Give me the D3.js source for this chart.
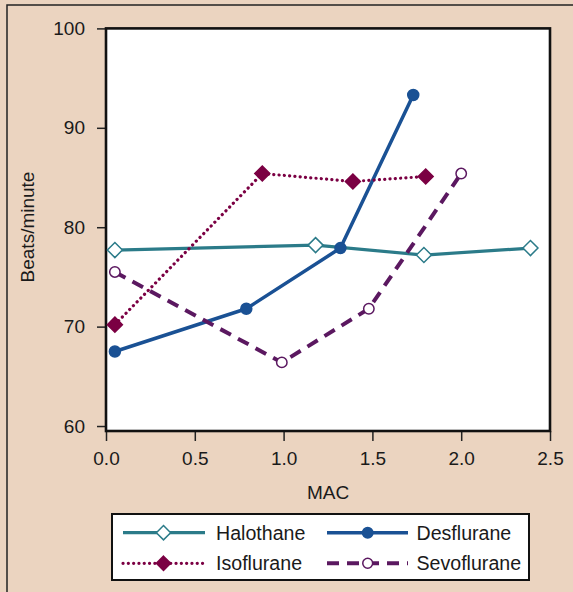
<!DOCTYPE html>
<html><head><meta charset="utf-8">
<script src="https://cdn.jsdelivr.net/npm/d3@7"></script>
<style>
html,body{margin:0;padding:0;background:#ebd4c0;}
svg{display:block;font-family:"Liberation Sans",Arial,Helvetica,sans-serif;}
</style></head>
<body>
<svg id="chart" width="573" height="592"></svg>
<script>
// ---- data ----
const seriesNames = ["Halothane","Desflurane","Isoflurane","Sevoflurane"];
const halothaneMAC = [0.05, 1.18, 1.79, 2.39];
const halothaneHR  = [77.7, 78.2, 77.2, 77.9];
const desfluraneMAC = [0.05, 0.79, 1.32, 1.73];
const desfluraneHR  = [67.5, 71.8, 77.9, 93.3];
const isofluraneMAC = [0.05, 0.88, 1.39, 1.80];
const isofluraneHR  = [70.2, 85.4, 84.6, 85.1];
const sevofluraneMAC = [0.05, 0.99, 1.48, 2.00];
const sevofluraneHR  = [75.5, 66.4, 71.8, 85.4];
const xTicks = [0, 0.5, 1.0, 1.5, 2.0, 2.5];
const yTicks = [60, 70, 80, 90, 100];

const styles = {
  Halothane:  {color:"#2b7b89", width:3.2, dash:null, marker:"diamond", fill:false},
  Desflurane: {color:"#1a5194", width:3.5, dash:null, marker:"circle", fill:true},
  Isoflurane: {color:"#7b0043", width:3.2, dash:"0.1 5.2", cap:"round", marker:"diamond", fill:true},
  Sevoflurane:{color:"#5b1860", width:4, dash:"12 8", marker:"circle", fill:false}
};
const series = [
  {name:"Halothane", x:halothaneMAC, y:halothaneHR},
  {name:"Desflurane", x:desfluraneMAC, y:desfluraneHR},
  {name:"Isoflurane", x:isofluraneMAC, y:isofluraneHR},
  {name:"Sevoflurane", x:sevofluraneMAC, y:sevofluraneHR}
];

const svg = d3.select("#chart");
// outer frame
svg.append("rect").attr("x",0).attr("y",0).attr("width",573).attr("height",592).attr("fill","#ebd4c0");
svg.append("path").attr("d","M7,592V5H573").attr("fill","none").attr("stroke","#222").attr("stroke-width",1.5);

const x = d3.scaleLinear().domain([0,2.5]).range([106,550]);
const y = d3.scaleLinear().domain([59.5,100]).range([431,28.4]);

// plot background
svg.append("rect").attr("x",x(0)).attr("y",y(100)).attr("width",x(2.5)-x(0)).attr("height",y(59.5)-y(100)).attr("fill","#fff");

// axes
const fs = "19px";
const fsLeg = "19.6px";
const gx = svg.append("g").attr("transform",`translate(0,${y(59.5)})`)
  .call(d3.axisBottom(x).tickValues(xTicks).tickFormat(d3.format(".1f")).tickSize(10).tickPadding(11).tickSizeOuter(0));
const gy = svg.append("g").attr("transform",`translate(${x(0)},0)`)
  .call(d3.axisLeft(y).tickValues(yTicks).tickSize(9).tickPadding(12).tickSizeOuter(0));
[gx,gy].forEach(g=>{
  g.select(".domain").remove();
  g.selectAll(".tick line").attr("stroke","#222").attr("stroke-width",1.5);
  g.selectAll(".tick text").attr("fill","#1a1a1a").style("font-size",fs).style("font-family","Liberation Sans, Arial, sans-serif");
});

// plot border
svg.append("rect").attr("x",x(0)).attr("y",y(100)).attr("width",x(2.5)-x(0)).attr("height",y(59.5)-y(100))
  .attr("fill","none").attr("stroke","#111").attr("stroke-width",2.6);

// axis titles
svg.append("text").attr("x",328).attr("y",492).attr("text-anchor","middle").attr("dominant-baseline","central")
  .style("font-size",fs).attr("fill","#1a1a1a").text("MAC");
svg.append("text").attr("transform","translate(27,227) rotate(-90)").attr("text-anchor","middle").attr("dominant-baseline","central")
  .style("font-size",fs).attr("fill","#1a1a1a").text("Beats/minute");

function drawMarker(g, type, cx, cy, st, scale){
  scale = scale || 1;
  if(type==="diamond"){
    const r = 7.5*scale;
    g.append("path").attr("d",`M${cx},${cy-r}L${cx+r},${cy}L${cx},${cy+r}L${cx-r},${cy}Z`)
      .attr("fill", st.fill?st.color:"#fff").attr("stroke",st.color).attr("stroke-width",1.5);
  } else {
    g.append("circle").attr("cx",cx).attr("cy",cy).attr("r",(st.fill?5.5:5.2)*scale)
      .attr("fill", st.fill?st.color:"#fff").attr("stroke",st.color).attr("stroke-width",1.5);
  }
}

const line = d3.line().x(d=>x(d[0])).y(d=>y(d[1]));
series.forEach(s=>{
  const st = styles[s.name];
  const pts = s.x.map((v,i)=>[v,s.y[i]]);
  svg.append("path").datum(pts).attr("d",line).attr("fill","none").attr("stroke",st.color)
    .attr("stroke-width",st.width).attr("stroke-dasharray",st.dash).attr("stroke-linecap",st.cap||"butt")
    .attr("stroke-linejoin","round");
  const g = svg.append("g");
  pts.forEach(p=>drawMarker(g, st.marker, x(p[0]), y(p[1]), st));
});

// legend
const lg = svg.append("g");
lg.append("rect").attr("x",112).attr("y",514).attr("width",417).attr("height",66).attr("fill","#fff")
  .attr("stroke","#111").attr("stroke-width",2);
const legPos = [
  {name:"Halothane", x0:123, x1:205, mx:163.5, tx:216, cy:532.7},
  {name:"Desflurane", x0:327, x1:408, mx:367.7, tx:416.5, cy:532.7},
  {name:"Isoflurane", x0:123, x1:205, mx:163.5, tx:216, cy:563.3},
  {name:"Sevoflurane", x0:327, x1:408, mx:367.7, tx:416.5, cy:563.3}
];
legPos.forEach(p=>{
  const st = styles[p.name];
  lg.append("line").attr("x1",p.x0).attr("x2",p.x1).attr("y1",p.cy).attr("y2",p.cy).attr("stroke",st.color)
    .attr("stroke-width",st.width).attr("stroke-dasharray",st.name==="Sevoflurane"?"10 6":st.dash).attr("stroke-linecap",st.cap||"butt");
  drawMarker(lg, st.marker, p.mx, p.cy, st, 0.95);
  lg.append("text").attr("x",p.tx).attr("y",p.cy).attr("dominant-baseline","central").style("font-size",fsLeg)
    .attr("fill","#1a1a1a").text(p.name);
});
</script>
</body></html>
